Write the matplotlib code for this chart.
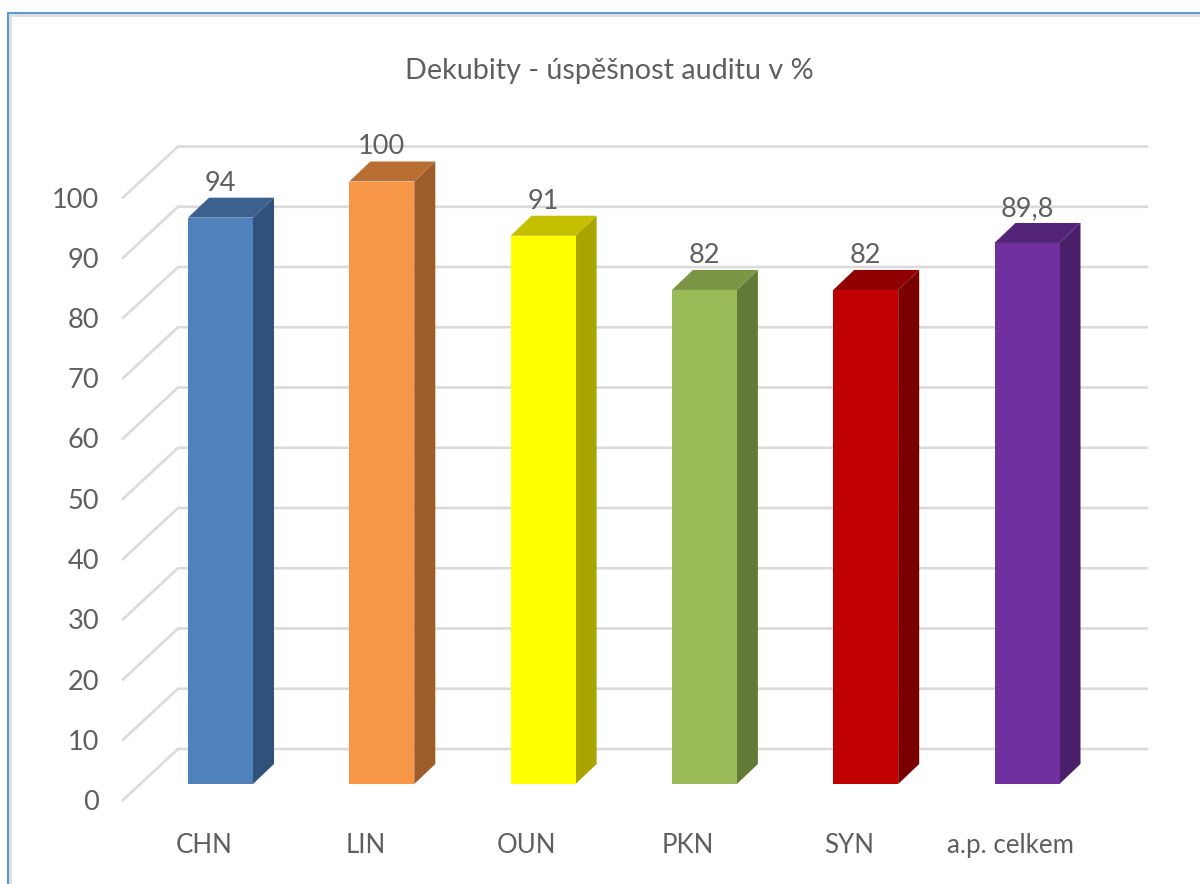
import matplotlib
matplotlib.use("Agg")
import matplotlib.pyplot as plt
from matplotlib.patches import Polygon, Rectangle
from matplotlib.lines import Line2D

plt.rcParams['font.family'] = ['Lato', 'DejaVu Sans']

title = "Dekubity - úspěšnost auditu v %"
categories = ["CHN", "LIN", "OUN", "PKN", "SYN", "a.p. celkem"]
values = [94, 100, 91, 82, 82, 89.8]
value_labels = ["94", "100", "91", "82", "82", "89,8"]
y_ticks = [0, 10, 20, 30, 40, 50, 60, 70, 80, 90, 100]
front_colors = ["#4F81BD", "#F79646", "#FFFF00", "#9BBB59", "#C00000", "#7030A0"]
top_colors = ["#3D618F", "#B96F32", "#C4C000", "#7D9645", "#900000", "#542478"]
side_colors = ["#30527A", "#9C5D2A", "#A8A400", "#637A36", "#7A0000", "#481F68"]

W, H = 1200, 884
PX_X, PX_Y = 161.3, 6.025      # pixels per category / per value unit
X0, Y0 = 220.5, 784            # pixel position of category 0 / value 0

fig = plt.figure(figsize=(W / 100, H / 100), dpi=100, facecolor="white")
ax = fig.add_axes([0, 0, 1, 1])
ax.set_xlim(-X0 / PX_X, (W - X0) / PX_X)
ax.set_ylim(-(H - Y0) / PX_Y, Y0 / PX_Y)
ax.axis("off")

bar_w = 65 / PX_X
dep_x = 21 / PX_X
dep_y = 20 / PX_Y
grid_x0 = (123 - X0) / PX_X
grid_x1 = (178 - X0) / PX_X
grid_x2 = (1147 - X0) / PX_X
grid_y0 = -16 / PX_Y
grid_y1 = 35 / PX_Y
TXT = "#5F5F5F"
FS = 19.5

for v in y_ticks:
    ax.plot([grid_x0, grid_x1, grid_x2], [v + grid_y0, v + grid_y1, v + grid_y1],
            color="#DBDBDB", lw=1.9, solid_joinstyle="miter", zorder=1)
    ax.text((99 - X0) / PX_X, v + grid_y0, str(v), ha="right", va="center_baseline",
            fontsize=FS, color=TXT, zorder=5)

for i, v in enumerate(values):
    l, r = i - bar_w / 2, i + bar_w / 2
    ax.add_patch(Polygon([(r, 0), (r + dep_x, dep_y), (r + dep_x, v + dep_y), (r, v)],
                         closed=True, fc=side_colors[i], ec="none", zorder=2))
    ax.add_patch(Polygon([(l, v), (r, v), (r + dep_x, v + dep_y), (l + dep_x, v + dep_y)],
                         closed=True, fc=top_colors[i], ec="none", zorder=2))
    ax.add_patch(Rectangle((l, 0), bar_w, v, fc=front_colors[i], ec="none", zorder=3))
    ax.text(i, v + 37 / PX_Y, value_labels[i], ha="center", va="center_baseline",
            fontsize=FS, color=TXT, zorder=6)
    ax.text(i - 16.5 / PX_X, -59 / PX_Y, categories[i], ha="center", va="center_baseline",
            fontsize=18.6, color=TXT, zorder=5)

ax.text((609 - X0) / PX_X, (Y0 - 68) / PX_Y, title, ha="center", va="center_baseline",
        fontsize=20.7, color=TXT, zorder=5)

# chart frame: blue outer line with a grey inner shadow, left and top only
def frame(x, y, color, lw):
    fig.add_artist(Line2D([x / W, x / W, 1], [0, 1 - y / H, 1 - y / H],
                          color=color, lw=lw, solid_joinstyle="miter"))
frame(10, 14.8, "#DEDEDE", 2.0)
frame(7.5, 12.5, "#5B9BD5", 1.5)

fig.savefig("out.png", dpi=100)
